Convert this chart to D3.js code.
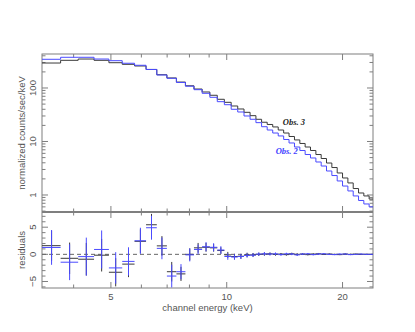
<!DOCTYPE html>
<html>
<head>
<meta charset="utf-8">
<script src="https://cdn.jsdelivr.net/npm/d3@7"></script>
<style>
  body { margin: 0; background: #fff; }
  text { font-family: "Liberation Sans", Arial, sans-serif; }
  text.obs { font-family: "Liberation Serif", "DejaVu Serif", serif; font-style: italic; font-weight: bold; }
</style>
</head>
<body>
<svg id="chart" width="415" height="332"></svg>
<script>
// bin edges in keV (shared by both observations)
const edges = [3.31, 3.70, 4.11, 4.52, 4.94, 5.35, 5.76, 6.17, 6.58, 6.99,
  7.40, 7.81, 8.22, 8.63, 9.04, 9.45, 9.86, 10.27, 10.68, 11.09,
  11.50, 11.91, 12.32, 12.74, 13.17, 13.61, 14.06, 14.52, 15.00, 15.49,
  15.99, 16.51, 17.05, 17.60, 18.17, 18.76, 19.37, 20.00, 20.65, 21.32,
  22.01, 22.72, 23.45, 24.0]

// folded model, counts/sec/keV
const obs3Model = [293, 329, 348, 329, 297, 277, 258, 222, 177, 154,
  129, 110, 95.7, 84.2, 73.1, 61.5, 54.0, 46.1, 40.5, 35.1,
  30.4, 26.0, 22.9, 20.8, 18.7, 16.4, 14.4, 12.4, 10.7, 9.18,
  7.89, 6.79, 5.71, 4.81, 3.96, 3.26, 2.58, 2.08, 1.68, 1.32,
  1.09, 0.96, 0.84]
const obs2Model = [344, 375, 375, 348, 324, 290, 266, 222, 175, 152,
  127, 108, 93, 79.6, 67.0, 55.5, 48.7, 40.0, 35.6, 30.0,
  26.0, 22.5, 18.9, 16.4, 14.4, 12.7, 10.9, 9.38, 7.89, 6.79,
  5.71, 4.92, 4.14, 3.48, 2.81, 2.31, 1.83, 1.47, 1.19, 0.96,
  0.79, 0.68, 0.60]

// residuals and their 1 sigma errors
const obs3Res = [1.6, -0.73, -0.9, -0.16, -3.3, -1.8, 2.4, 5.45, 1.56, -3.2,
  -3.6, 0.0, 1.2, 1.3, 1.2, 0.7, -0.1, -0.4, -0.35, -0.1,
  -0.1, 0.0, 0.05, 0.1, 0.0, 0.05, -0.05, 0.1, 0.0, 0.05,
  -0.05, 0.05, 0.1, 0.0, 0.05, 0.0, -0.05, 0.05, 0.0, 0.05,
  0.0, 0.0, 0.0]
const obs3Err = [2.8, 2.9, 3.0, 3.0, 2.6, 2.4, 2.2, 2.0, 1.8, 1.8,
  1.3, 1.1, 0.9, 0.8, 0.7, 0.6, 0.55, 0.5, 0.45, 0.4,
  0.35, 0.3, 0.3, 0.25, 0.25, 0.2, 0.2, 0.2, 0.2, 0.15,
  0.15, 0.15, 0.15, 0.12, 0.12, 0.1, 0.1, 0.1, 0.1, 0.08,
  0.08, 0.08, 0.06]
const obs2Res = [1.27, -1.45, -0.42, 0.9, -2.5, -1.3, 2.5, 4.9, 1.1, -4.0,
  -3.2, -0.1, 0.9, 1.4, 1.3, 0.8, -0.4, -0.5, -0.4, -0.2,
  -0.15, 0.05, 0.1, 0.05, 0.1, -0.05, 0.1, 0.05, -0.1, 0.05,
  0.1, -0.05, 0.05, 0.1, 0.0, -0.05, 0.05, 0.05, -0.05, 0.0,
  0.05, 0.0, 0.0]
const obs2Err = [3.2, 3.3, 3.5, 3.5, 2.9, 2.6, 2.4, 2.2, 2.0, 2.1,
  1.4, 1.2, 0.9, 0.85, 0.75, 0.7, 0.6, 0.5, 0.45, 0.4,
  0.35, 0.3, 0.3, 0.25, 0.25, 0.2, 0.2, 0.2, 0.2, 0.15,
  0.15, 0.15, 0.15, 0.12, 0.12, 0.1, 0.1, 0.1, 0.1, 0.08,
  0.08, 0.08, 0.06]

const xMajor = [5, 10, 20]
const xMinor = [4, 6, 7, 8, 9]
const yMajor = [1, 10, 100]
const resMajor = [-5, 0, 5]

const svg = d3.select("#chart")
const pLeft = 42, pRight = 373, pTop = 54, pMid = 212, pBottom = 288
const frameColor = "#7f7f7f"
const labelColor = "#555"

const x = d3.scaleLog().domain([3.31, 24.0]).range([pLeft, pRight])
const y = d3.scaleLog().domain([0.481, 432]).range([pMid, pTop])
const yr = d3.scaleLinear().domain([-6.2, 7.8]).range([pBottom, pMid])

// minor ticks of the log count axis
let yMinor = []
for (let dec of [0.1, 1, 10, 100]) {
  for (let k = 2; k <= 9; k++) {
    let v = dec * k
    if (v > 0.481 && v < 432) yMinor.push(v)
  }
}
let resMinor = d3.range(-6, 8).filter(v => resMajor.indexOf(v) < 0)

function tick(x1, y1, x2, y2) {
  svg.append("line")
    .attr("x1", x1).attr("y1", y1).attr("x2", x2).attr("y2", y2)
    .attr("stroke", frameColor).attr("stroke-width", 1)
}

// x ticks on the 4 horizontal edges
for (let [vals, len] of [[xMajor, 6], [xMinor, 3.5]]) {
  for (let v of vals) {
    let px = x(v)
    tick(px, pTop, px, pTop + len)
    tick(px, pMid, px, pMid - len)
    tick(px, pMid, px, pMid + len)
    tick(px, pBottom, px, pBottom - len)
  }
}
// y ticks, top panel
for (let [vals, len] of [[yMajor, 6], [yMinor, 3.5]]) {
  for (let v of vals) {
    tick(pLeft, y(v), pLeft + len, y(v))
    tick(pRight, y(v), pRight - len, y(v))
  }
}
// y ticks, residual panel
for (let [vals, len] of [[resMajor, 6], [resMinor, 3.5]]) {
  for (let v of vals) {
    tick(pLeft, yr(v), pLeft + len, yr(v))
    tick(pRight, yr(v), pRight - len, yr(v))
  }
}

// frames
svg.append("rect")
  .attr("x", pLeft).attr("y", pTop)
  .attr("width", pRight - pLeft).attr("height", pBottom - pTop)
  .attr("fill", "none").attr("stroke", frameColor).attr("stroke-width", 1)
svg.append("line")
  .attr("x1", pLeft).attr("x2", pRight).attr("y1", pMid).attr("y2", pMid)
  .attr("stroke", frameColor).attr("stroke-width", 2.2)

// zero line
svg.append("line")
  .attr("x1", pLeft).attr("x2", pRight).attr("y1", yr(0)).attr("y2", yr(0))
  .attr("stroke", "#666").attr("stroke-width", 1)
  .attr("stroke-dasharray", "4,3")

// step histograms
function steps(model) {
  let pts = []
  model.forEach((v, i) => {
    pts.push([edges[i], v])
    pts.push([edges[i + 1], v])
  })
  return pts
}
let line = d3.line()
  .x(p => x(p[0]))
  .y(p => y(p[1]))

svg.append("path")
  .attr("d", line(steps(obs3Model)))
  .attr("fill", "none").attr("stroke", "#3a3a3a").attr("stroke-width", 1)
svg.append("path")
  .attr("d", line(steps(obs2Model)))
  .attr("fill", "none").attr("stroke", "#4a4aff").attr("stroke-width", 1)

// residual crosses
function crosses(res, err, color) {
  let g = svg.append("g").attr("stroke", color).attr("stroke-width", 1)
  res.forEach((r, i) => {
    let e0 = edges[i], e1 = edges[i + 1]
    let c = (e0 + e1) / 2
    g.append("line")
      .attr("x1", x(e0)).attr("x2", x(e1))
      .attr("y1", yr(r)).attr("y2", yr(r))
    g.append("line")
      .attr("x1", x(c)).attr("x2", x(c))
      .attr("y1", yr(Math.max(r - err[i], -6.2)))
      .attr("y2", yr(Math.min(r + err[i], 7.8)))
  })
}
crosses(obs3Res, obs3Err, "#3a3a3a")
crosses(obs2Res, obs2Err, "#4a4aff")

// tick labels
function vlabel(text, px, py) {
  svg.append("text")
    .attr("transform", `translate(${px},${py}) rotate(-90)`)
    .attr("text-anchor", "middle")
    .attr("font-size", 9.5)
    .attr("fill", labelColor)
    .text(text)
}
yMajor.forEach(v => vlabel(d3.format("d")(v), 36, y(v)))
resMajor.forEach(v => vlabel(v < 0 ? "\u2212" + Math.abs(v) : String(v), 36, yr(v)))

xMajor.forEach(v => {
  svg.append("text")
    .attr("x", x(v)).attr("y", 300)
    .attr("text-anchor", "middle")
    .attr("font-size", 9.5)
    .attr("fill", labelColor)
    .text(v)
})

// axis titles
vlabel("normalized counts/sec/keV", 25, (pTop + pMid) / 2)
vlabel("residuals", 25, (pMid + pBottom) / 2)
svg.append("text")
  .attr("x", (pLeft + pRight) / 2).attr("y", 311)
  .attr("text-anchor", "middle")
  .attr("font-size", 9.5)
  .attr("fill", labelColor)
  .text("channel energy (keV)")

// observation labels
svg.append("text")
  .attr("class", "obs")
  .attr("x", x(13.99)).attr("y", y(20.4))
  .attr("font-size", 8.5).attr("fill", "#222")
  .text("Obs. 3")
svg.append("text")
  .attr("class", "obs")
  .attr("x", x(13.4)).attr("y", y(5.84))
  .attr("font-size", 8.5).attr("fill", "#3d3dff")
  .text("Obs. 2")
</script>
</body>
</html>
